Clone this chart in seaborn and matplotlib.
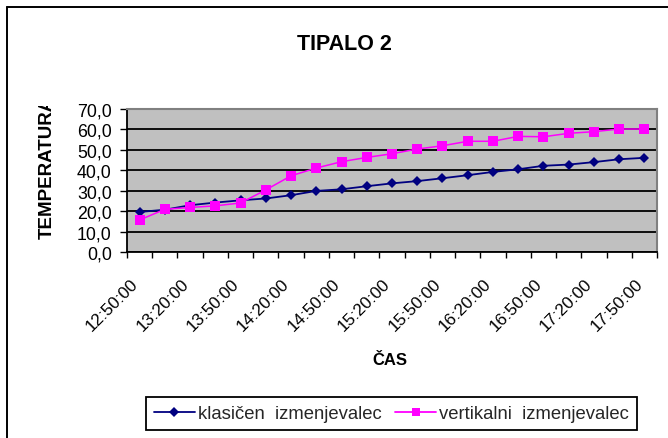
import matplotlib
matplotlib.use("Agg")
import matplotlib.pyplot as plt
import matplotlib.transforms as mtransforms
from matplotlib.lines import Line2D
import seaborn as sns
import pandas as pd
import numpy as np

# ---- data ----
times = ["12:50:00", "13:05:00", "13:20:00", "13:35:00", "13:50:00", "14:05:00",
         "14:20:00", "14:35:00", "14:50:00", "15:05:00", "15:20:00", "15:35:00",
         "15:50:00", "16:05:00", "16:20:00", "16:35:00", "16:50:00", "17:05:00",
         "17:20:00", "17:35:00", "17:50:00"]
klasicen = [19.6, 20.7, 22.9, 24.2, 25.3, 26.2, 27.8, 29.9, 30.7, 32.2, 33.6,
            34.7, 36.1, 37.6, 39.2, 40.5, 42.2, 42.8, 44.0, 45.4, 46.1]
vertikalni = [15.7, 20.9, 21.8, 22.6, 24.0, 30.4, 37.3, 41.1, 44.2, 46.3, 48.1,
              50.4, 52.0, 54.2, 54.2, 56.6, 56.4, 58.1, 58.9, 60.2, 60.2]
series_names = ["klasičen  izmenjevalec", "vertikalni  izmenjevalec"]
yticks = [0, 10, 20, 30, 40, 50, 60, 70]

colors = {series_names[0]: "#000080", series_names[1]: "#FF00FF"}
markers = {series_names[0]: "D", series_names[1]: "s"}

sns.set_theme(style="white")
plt.rcParams["font.family"] = ["Liberation Sans", "DejaVu Sans"]

W, H = 668, 439
fig = plt.figure(figsize=(W / 100, H / 100), dpi=100)
fig.patch.set_facecolor("white")

L, R, T, B = 127, 657, 110, 253
ax = fig.add_axes([L / W, 1 - B / H, (R - L) / W, (B - T) / H])
ax.set_facecolor("#C0C0C0")

n = len(times)
df = pd.DataFrame({
    "idx": list(range(n)) * 2,
    "temp": klasicen + vertikalni,
    "serija": [series_names[0]] * n + [series_names[1]] * n,
})

sns.lineplot(data=df, x="idx", y="temp", hue="serija", style="serija",
             palette=colors, markers=markers, dashes=False, ax=ax,
             linewidth=1.3, markersize=6.2, markeredgewidth=0, legend=False)
for line in ax.get_lines():
    if line.get_marker() == "s":
        line.set_markersize(6.6)
        line.set_linewidth(1.1)
    elif line.get_marker() == "D":
        line.set_markersize(5.3)

ax.set_xlim(-0.5, n - 0.5)
ax.set_ylim(0, 70)
ax.set_xlabel("")
ax.set_ylabel("")

# y axis
ax.set_yticks(yticks)
ax.set_yticklabels([f"{v:.1f}".replace(".", ",") for v in yticks], fontsize=12.8, color="black")
ax.tick_params(axis="y", which="major", direction="out", length=5, width=1.0,
               color="black", pad=6.0, left=True)
ax.yaxis.grid(True, color="black", linewidth=1.3)
ax.xaxis.grid(False)
ax.set_axisbelow(True)

# x axis
major = list(range(0, n, 2))
ax.set_xticks(major)
ax.set_xticklabels([times[i] for i in major], rotation=45, ha="right", va="center",
                   rotation_mode="anchor", fontsize=12.3, color="black")
ax.set_xticks(np.arange(-0.5, n, 1), minor=True)
ax.tick_params(axis="x", which="major", length=0, pad=21, bottom=True)
ax.tick_params(axis="x", which="minor", direction="out", length=4.3, width=1.0,
               color="black", bottom=True)
offset = mtransforms.ScaledTranslation(-4.0 / 100, 0, fig.dpi_scale_trans)
for lab in ax.get_xticklabels():
    lab.set_transform(lab.get_transform() + offset)

for s in ["left", "bottom"]:
    ax.spines[s].set_color("black")
    ax.spines[s].set_linewidth(1.3)
for s in ["top", "right"]:
    ax.spines[s].set_color("#808080")
    ax.spines[s].set_linewidth(1.5)

# titles
fig.text(344 / W, 1 - 45 / H, "TIPALO 2", ha="center", va="center",
         fontsize=15.5, fontweight="bold", color="black")
fig.text(390 / W, 1 - 361 / H, "ČAS", ha="center", va="center",
         fontsize=12, fontweight="bold", color="black")
ylab = fig.text(47.5 / W, 1 - 168 / H, "TEMPERATURA", rotation=90, ha="center",
                va="center", fontsize=13.5, fontweight="bold", color="black")
ylab.set_clip_box(mtransforms.TransformedBbox(
    mtransforms.Bbox([[0, 0], [W / 100, (H - 107) / 100]]), fig.dpi_scale_trans))
ylab.set_clip_on(True)

# legend
handles = [Line2D([], [], color=colors[s], marker=markers[s],
                  markersize=5.5 if markers[s] == "D" else 6.0,
                  markeredgewidth=0, linewidth=1.3) for s in series_names]
leg = fig.legend(handles, series_names, loc="center",
                 bbox_to_anchor=(391.5 / W, 1 - 414.5 / H), ncol=2, fontsize=13.3,
                 frameon=True, fancybox=False, shadow=False, framealpha=1,
                 edgecolor="black", facecolor="white", handlelength=2.2,
                 handletextpad=0.17, columnspacing=0.75, borderpad=0.45,
                 borderaxespad=0)
leg.get_frame().set_linewidth(1.3)

# chart area border (left and top edges visible)
fig.add_artist(Line2D([7 / W, 7 / W], [0, 1 - 8 / H], color="black", linewidth=1.4,
                      transform=fig.transFigure))
fig.add_artist(Line2D([7 / W, 1], [1 - 8 / H, 1 - 8 / H], color="black", linewidth=1.4,
                      transform=fig.transFigure))

fig.savefig("out.png", dpi=100, facecolor="white")
